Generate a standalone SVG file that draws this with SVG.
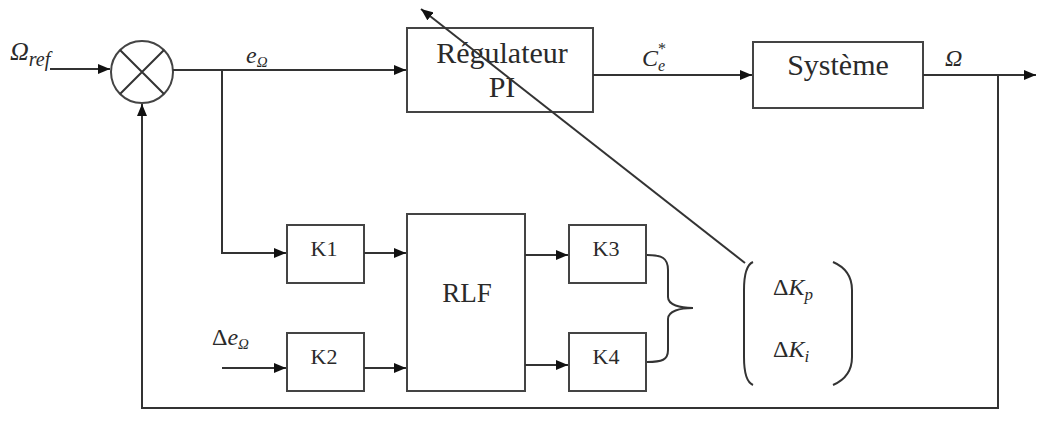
<svg xmlns="http://www.w3.org/2000/svg" width="1038" height="439" viewBox="0 0 1038 439">
<defs>
<marker id="ah" viewBox="0 0 12 10" refX="12" refY="5" markerWidth="12" markerHeight="10" markerUnits="userSpaceOnUse" orient="auto">
<path d="M0,0 L12,5 L0,10 Z" fill="#111"/>
</marker>
<style>
.box{fill:#fff;stroke:#444;stroke-width:2}
.ln{fill:none;stroke:#333;stroke-width:2}
.ar{fill:none;stroke:#333;stroke-width:2;marker-end:url(#ah)}
text{font-family:'Liberation Serif','DejaVu Serif','Noto Serif',serif}
.t{fill:#2a2a2a;text-anchor:middle}
.m{fill:#2a2a2a;font-style:italic}
</style>
</defs>
<rect width="1038" height="439" fill="#fff"/>
<g id="sum">
<circle cx="142" cy="72" r="31" class="box"/>
<path class="ln" d="M120,50 L164,94 M164,50 L120,94"/>
</g>
<g id="regulateur">
<rect x="407" y="28" width="186" height="84" class="box"/>
<text class="t" x="502" y="63" font-size="30">Régulateur</text>
<text class="t" x="502" y="97" font-size="30">PI</text>
</g>
<g id="systeme">
<rect x="753" y="42" width="170" height="66" class="box"/>
<text class="t" x="838" y="75" font-size="30">Système</text>
</g>
<g id="k1">
<rect x="287" y="225" width="77" height="58" class="box"/>
<text class="t" x="324" y="256" font-size="22">K1</text>
</g>
<g id="k2">
<rect x="287" y="333" width="77" height="58" class="box"/>
<text class="t" x="324" y="364" font-size="22">K2</text>
</g>
<g id="rlf">
<rect x="407" y="214" width="118" height="177" class="box"/>
<text class="t" x="467" y="302" font-size="27">RLF</text>
</g>
<g id="k3">
<rect x="569" y="225" width="77" height="58" class="box"/>
<text class="t" x="606" y="256" font-size="22">K3</text>
</g>
<g id="k4">
<rect x="569" y="333" width="77" height="58" class="box"/>
<text class="t" x="606" y="364" font-size="22">K4</text>
</g>
<g id="labels">
<text class="m" x="10" y="60" font-size="26">Ω<tspan font-size="20" dy="6">ref</tspan></text>
<text class="m" x="246" y="63" font-size="24">e<tspan font-size="15" dy="4">Ω</tspan></text>
<text class="m" x="642" y="66" font-size="24">C<tspan font-size="16" dy="5">e</tspan><tspan font-size="16" dx="-8" dy="-17">*</tspan></text>
<text class="m" x="945" y="66" font-size="24">Ω</text>
<text class="m" x="212" y="345" font-size="24"><tspan font-style="normal">Δ</tspan>e<tspan font-size="15" dy="4">Ω</tspan></text>
<text class="m" x="773" y="295" font-size="24"><tspan font-style="normal">Δ</tspan>K<tspan font-size="17" dy="5">p</tspan></text>
<text class="m" x="773" y="357" font-size="24"><tspan font-style="normal">Δ</tspan>K<tspan font-size="17" dy="5">i</tspan></text>
</g>
<g id="connectors">
<path class="ar" d="M50,69 L110,69"/>
<path class="ar" d="M173,70 L406,70"/>
<path class="ar" d="M593,75 L752,75"/>
<path class="ar" d="M923,75 L1036,75"/>
<path class="ar" d="M998,75 L998,408 L142,408 L142,104"/>
<path class="ar" d="M222,70 L222,253 L286,253"/>
<path class="ar" d="M222,368 L286,368"/>
<path class="ar" d="M364,253 L406,253"/>
<path class="ar" d="M364,368 L406,368"/>
<path class="ar" d="M525,255 L568,255"/>
<path class="ar" d="M525,365 L568,365"/>
<path class="ar" d="M745,263 L421,9"/>
<path class="ln" d="M647,255 C662,255 668,258 668,270 L668,297 C668,305 680,308 693,308 C680,308 668,311 668,319 L668,350 C668,360 662,362 647,362"/>
<path class="ln" d="M753,262 C746,265 744,275 744,290 L744,357 C744,372 746,382 753,385"/>
<path class="ln" d="M833,262 C840,265 852,272 852,290 L852,357 C852,375 840,382 833,385"/>
</g>
</svg>
